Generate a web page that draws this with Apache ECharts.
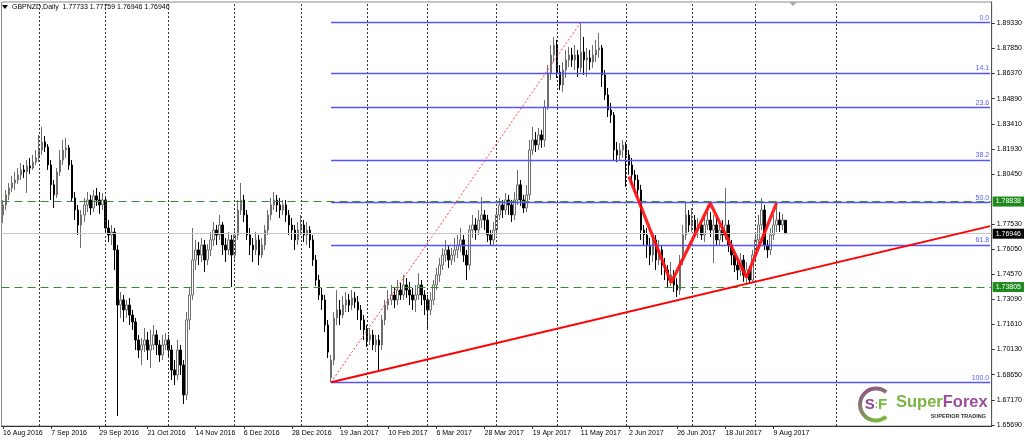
<!DOCTYPE html>
<html>
<head>
<meta charset="utf-8">
<script src="https://cdn.jsdelivr.net/npm/echarts@6/dist/echarts.min.js"></script>
<style>
html,body{margin:0;padding:0;background:#fff;}
#chart{width:1025px;height:443px;}
</style>
</head>
<body>
<div id="chart"></div>
<script>
// ---- DATA ----
const symbolTitle = 'GBPNZD,Daily  1.77733 1.77759 1.76946 1.76946';
const firstBarDate = '2016-08-16';
const futureDays = 68;
// daily candles [open, close, low, high]
const ohlc = [
[1.7805,1.7864,1.7757,1.7893],[1.7864,1.7923,1.7834,1.7952],[1.7923,1.7964,1.7893,1.7993],[1.7964,1.7993,1.7940,1.8035],[1.7993,1.8011,1.7952,1.8058],
[1.8011,1.8041,1.7987,1.8081],[1.8041,1.8070,1.8011,1.8110],[1.8070,1.8058,1.8023,1.8099],[1.8058,1.8093,1.7934,1.8128],[1.8093,1.8081,1.8046,1.8140],
[1.8081,1.8116,1.8070,1.8158],[1.8116,1.8140,1.8099,1.8187],[1.8140,1.8187,1.8116,1.8276],[1.8187,1.8234,1.8158,1.8323],[1.8234,1.8205,1.8175,1.8270],
[1.8205,1.8099,1.8070,1.8222],[1.8099,1.7982,1.7893,1.8128],[1.7982,1.7923,1.7846,1.8011],[1.7923,1.8058,1.7905,1.8081],[1.8058,1.8128,1.8035,1.8187],
[1.8128,1.8187,1.8099,1.8246],[1.8187,1.8199,1.8140,1.8258],[1.8199,1.8099,1.8070,1.8217],[1.8099,1.7905,1.7881,1.8128],[1.7905,1.7834,1.7775,1.7940],
[1.7834,1.7746,1.7687,1.7864],[1.7746,1.7805,1.7611,1.7834],[1.7805,1.7864,1.7763,1.7905],[1.7864,1.7893,1.7822,1.7940],[1.7893,1.7846,1.7805,1.7923],
[1.7846,1.7917,1.7822,1.7952],[1.7917,1.7893,1.7858,1.7964],[1.7893,1.7864,1.7811,1.7940],[1.7864,1.7893,1.7834,1.7934],[1.7893,1.7728,1.7704,1.7905],
[1.7728,1.7687,1.7646,1.7775],[1.7687,1.7704,1.7628,1.7746],[1.7704,1.7599,1.7481,1.7728],[1.7599,1.7275,1.6622,1.7628],[1.7275,1.7305,1.7199,1.7352],
[1.7305,1.7246,1.7175,1.7334],[1.7246,1.7275,1.7199,1.7305],[1.7275,1.7216,1.7157,1.7316],[1.7216,1.7175,1.7128,1.7246],[1.7175,1.7069,1.7010,1.7199],
[1.7069,1.7010,1.6963,1.7098],[1.7010,1.7040,1.6922,1.7081],[1.7040,1.7069,1.6998,1.7140],[1.7069,1.7010,1.6951,1.7116],[1.7010,1.7040,1.6904,1.7128],
[1.7040,1.7099,1.7010,1.7157],[1.7099,1.7040,1.6981,1.7128],[1.7040,1.6981,1.6940,1.7069],[1.6981,1.7040,1.6951,1.7098],[1.7040,1.7069,1.7010,1.7110],
[1.7069,1.7010,1.6963,1.7098],[1.7010,1.6893,1.6834,1.7040],[1.6893,1.6863,1.6804,1.6951],[1.6863,1.7010,1.6834,1.7069],[1.7010,1.6922,1.6863,1.7040],
[1.6922,1.6746,1.6692,1.6951],[1.6746,1.7187,1.6716,1.7234],[1.7187,1.7334,1.7128,1.7375],[1.7334,1.7540,1.7305,1.7728],[1.7540,1.7599,1.7481,1.7658],
[1.7599,1.7569,1.7510,1.7646],[1.7569,1.7628,1.7528,1.7669],[1.7628,1.7540,1.7469,1.7658],[1.7540,1.7599,1.7510,1.7634],[1.7599,1.7658,1.7563,1.7705],
[1.7658,1.7716,1.7622,1.7763],[1.7716,1.7687,1.7628,1.7746],[1.7687,1.7746,1.7658,1.7805],[1.7746,1.7628,1.7569,1.7763],[1.7628,1.7599,1.7528,1.7669],
[1.7599,1.7658,1.7569,1.7705],[1.7658,1.7569,1.7381,1.7687],[1.7569,1.7687,1.7540,1.7716],[1.7687,1.7834,1.7658,1.7893],[1.7834,1.7893,1.7805,1.7993],
[1.7893,1.7805,1.7763,1.7923],[1.7805,1.7687,1.7658,1.7834],[1.7687,1.7628,1.7569,1.7728],[1.7628,1.7599,1.7528,1.7669],[1.7599,1.7658,1.7569,1.7705],
[1.7658,1.7569,1.7510,1.7687],[1.7569,1.7628,1.7552,1.7669],[1.7628,1.7716,1.7599,1.7746],[1.7716,1.7805,1.7687,1.7834],[1.7805,1.7864,1.7775,1.7905],
[1.7864,1.7893,1.7834,1.7940],[1.7893,1.7864,1.7822,1.7923],[1.7864,1.7834,1.7787,1.7905],[1.7834,1.7864,1.7805,1.7893],[1.7864,1.7805,1.7763,1.7893],
[1.7805,1.7746,1.7687,1.7834],[1.7746,1.7716,1.7658,1.7787],[1.7716,1.7658,1.7599,1.7746],[1.7658,1.7716,1.7628,1.7763],[1.7716,1.7746,1.7687,1.7805],
[1.7746,1.7687,1.7646,1.7775],[1.7687,1.7716,1.7628,1.7763],[1.7716,1.7658,1.7611,1.7740],[1.7658,1.7540,1.7505,1.7687],[1.7540,1.7422,1.7387,1.7569],
[1.7422,1.7334,1.7305,1.7452],[1.7334,1.7305,1.7246,1.7375],[1.7305,1.7157,1.7116,1.7334],[1.7157,1.6998,1.6963,1.7187],[1.6846,1.6951,1.6820,1.6981],
[1.6951,1.7199,1.6922,1.7234],[1.7199,1.7246,1.7157,1.7363],[1.7246,1.7216,1.7157,1.7305],[1.7216,1.7275,1.7199,1.7328],[1.7275,1.7305,1.7234,1.7352],
[1.7305,1.7275,1.7234,1.7340],[1.7275,1.7316,1.7246,1.7363],[1.7316,1.7293,1.7257,1.7352],[1.7293,1.7246,1.7187,1.7328],[1.7246,1.7187,1.7128,1.7275],
[1.7187,1.7128,1.7069,1.7216],[1.7128,1.7069,1.7028,1.7157],[1.7069,1.7099,1.7040,1.7140],[1.7099,1.7040,1.7010,1.7128],[1.7040,1.7069,1.6998,1.7099],
[1.7069,1.7040,1.6893,1.7099],[1.7040,1.7187,1.7010,1.7216],[1.7187,1.7275,1.7157,1.7305],[1.7275,1.7305,1.7246,1.7363],[1.7305,1.7334,1.7275,1.7393],
[1.7334,1.7305,1.7257,1.7375],[1.7305,1.7363,1.7275,1.7422],[1.7363,1.7334,1.7305,1.7405],[1.7334,1.7393,1.7305,1.7452],[1.7393,1.7363,1.7316,1.7434],
[1.7363,1.7334,1.7275,1.7411],[1.7334,1.7305,1.7246,1.7375],[1.7305,1.7334,1.7234,1.7393],[1.7334,1.7393,1.7305,1.7463],[1.7393,1.7334,1.7275,1.7422],
[1.7334,1.7305,1.7216,1.7363],[1.7305,1.7246,1.7128,1.7334],[1.7246,1.7305,1.7216,1.7352],[1.7305,1.7393,1.7275,1.7422],[1.7393,1.7452,1.7363,1.7493],
[1.7452,1.7510,1.7411,1.7552],[1.7510,1.7569,1.7481,1.7611],[1.7569,1.7599,1.7528,1.7658],[1.7599,1.7540,1.7493,1.7628],[1.7540,1.7569,1.7510,1.7611],
[1.7569,1.7599,1.7528,1.7669],[1.7599,1.7628,1.7552,1.7687],[1.7628,1.7658,1.7587,1.7728],[1.7658,1.7569,1.7528,1.7687],[1.7569,1.7510,1.7422,1.7599],
[1.7510,1.7716,1.7481,1.7746],[1.7716,1.7746,1.7669,1.7805],[1.7746,1.7716,1.7658,1.7787],[1.7716,1.7775,1.7687,1.7834],[1.7775,1.7805,1.7728,1.7911],
[1.7805,1.7775,1.7716,1.7834],[1.7775,1.7687,1.7646,1.7805],[1.7687,1.7658,1.7628,1.7716],[1.7658,1.7716,1.7628,1.7763],[1.7716,1.7805,1.7687,1.7846],
[1.7805,1.7864,1.7775,1.7905],[1.7864,1.7834,1.7787,1.7893],[1.7834,1.7893,1.7805,1.7934],[1.7893,1.7864,1.7805,1.7923],[1.7864,1.7805,1.7763,1.7893],
[1.7805,1.7893,1.7775,1.7940],[1.7893,1.7982,1.7864,1.8070],[1.7982,1.7893,1.7858,1.8011],[1.7893,1.7846,1.7817,1.7923],[1.7846,1.7923,1.7822,1.7982],
[1.7923,1.8187,1.7893,1.8246],[1.8187,1.8246,1.8158,1.8323],[1.8246,1.8217,1.8175,1.8293],[1.8217,1.8276,1.8187,1.8317],[1.8276,1.8246,1.8199,1.8305],
[1.8246,1.8440,1.8205,1.8482],[1.8440,1.8640,1.8423,1.8687],[1.8640,1.8746,1.8599,1.8805],[1.8746,1.8805,1.8705,1.8852],[1.8805,1.8646,1.8611,1.8835],
[1.8646,1.8570,1.8540,1.8687],[1.8570,1.8658,1.8529,1.8705],[1.8658,1.8717,1.8611,1.8776],[1.8717,1.8746,1.8676,1.8793],[1.8746,1.8717,1.8676,1.8788],
[1.8717,1.8746,1.8658,1.8805],[1.8746,1.8670,1.8617,1.8776],[1.8670,1.8764,1.8646,1.8939],[1.8764,1.8717,1.8629,1.8852],[1.8717,1.8729,1.8617,1.8788],
[1.8729,1.8705,1.8658,1.8776],[1.8705,1.8746,1.8670,1.8805],[1.8746,1.8776,1.8705,1.8835],[1.8776,1.8788,1.8729,1.8876],[1.8788,1.8629,1.8558,1.8805],
[1.8629,1.8511,1.8482,1.8658],[1.8511,1.8423,1.8381,1.8552],[1.8423,1.8393,1.8346,1.8464],[1.8393,1.8187,1.8128,1.8411],[1.8187,1.8158,1.8116,1.8234],
[1.8158,1.8187,1.8128,1.8228],[1.8187,1.8217,1.8140,1.8246],[1.8217,1.8158,1.7970,1.8234],[1.8158,1.8099,1.8041,1.8187],[1.8099,1.8041,1.7982,1.8140],
[1.8041,1.8011,1.7934,1.8070],[1.8011,1.7952,1.7911,1.8041],[1.7952,1.7716,1.7658,1.7982],[1.7716,1.7687,1.7628,1.7746],[1.7687,1.7628,1.7552,1.7728],
[1.7628,1.7569,1.7510,1.7669],[1.7569,1.7658,1.7528,1.7705],[1.7658,1.7540,1.7481,1.7687],[1.7540,1.7599,1.7510,1.7658],[1.7599,1.7510,1.7452,1.7628],
[1.7510,1.7481,1.7422,1.7552],[1.7481,1.7422,1.7375,1.7510],[1.7422,1.7452,1.7387,1.7528],[1.7452,1.7393,1.7352,1.7481],[1.7393,1.7363,1.7322,1.7434],
[1.7363,1.7540,1.7334,1.7569],[1.7540,1.7687,1.7510,1.7746],[1.7687,1.7805,1.7658,1.7875],[1.7805,1.7746,1.7705,1.7834],[1.7746,1.7775,1.7705,1.7846],
[1.7775,1.7716,1.7681,1.7805],[1.7716,1.7746,1.7669,1.7787],[1.7746,1.7687,1.7658,1.7775],[1.7687,1.7746,1.7646,1.7805],[1.7746,1.7775,1.7716,1.7864],
[1.7775,1.7716,1.7675,1.7822],[1.7716,1.7746,1.7522,1.7805],[1.7746,1.7658,1.7628,1.7787],[1.7658,1.7716,1.7622,1.7746],[1.7716,1.7687,1.7646,1.7775],
[1.7687,1.7746,1.7658,1.7964],[1.7746,1.7628,1.7587,1.7775],[1.7628,1.7569,1.7510,1.7658],[1.7569,1.7510,1.7469,1.7599],[1.7510,1.7481,1.7422,1.7552],
[1.7481,1.7540,1.7446,1.7581],[1.7540,1.7452,1.7411,1.7569],[1.7452,1.7481,1.7399,1.7528],[1.7481,1.7422,1.7399,1.7505],[1.7422,1.7569,1.7405,1.7599],
[1.7569,1.7658,1.7540,1.7705],[1.7658,1.7746,1.7628,1.7805],[1.7746,1.7834,1.7716,1.7905],[1.7834,1.7628,1.7599,1.7864],[1.7628,1.7599,1.7552,1.7658],
[1.7599,1.7687,1.7569,1.7728],[1.7687,1.7746,1.7658,1.7805],[1.7746,1.7775,1.7705,1.7881],[1.7775,1.7746,1.7705,1.7822],[1.7746,1.7775,1.7716,1.7811],
[1.77733,1.76946,1.76946,1.77759]
];
// price axis
const priceMin = 1.6563;
const priceMax = 1.9058;
const priceTicks = [1.65690,1.67170,1.68650,1.70130,1.71610,1.73090,1.74570,1.76050,1.77530,1.80450,1.81930,1.83410,1.84890,1.86370,1.87850,1.89330];
// horizontal levels
const resistanceLevel = 1.78838;
const supportLevel = 1.73805;
const lastPrice = 1.76946;
// fibonacci retracement
const fibStartDate = '2017-01-16', fibLow = 1.6820;
const fibEndDate = '2017-05-11', fibHigh = 1.8939;
const fibRatios = [0, 14.1, 23.6, 38.2, 50.0, 61.8, 100.0];
// rising trend line
const trendStart = ['2017-01-16', 1.6820];
const trendEnd = ['2017-10-22', 1.7739];
// double-bottom "W" pattern
const wDates = ['2017-06-02','2017-06-22','2017-07-11','2017-07-27','2017-08-10'];
const wPrices = [1.8030, 1.7406, 1.7874, 1.7438, 1.7874];
// monthly separators
const monthLines = ['2016-09-01','2016-10-03','2016-11-01','2016-12-01','2017-01-02','2017-02-01','2017-03-01','2017-04-03','2017-05-01','2017-06-01','2017-07-03','2017-08-01','2017-09-01'];
const labelEvery = 16;

// ---- categories (trading days, then calendar days into the future) ----
function iso(d){return d.toISOString().slice(0,10);}
const categories = [];
(function(){
  const p = firstBarDate.split('-').map(Number);
  const d = new Date(Date.UTC(p[0], p[1]-1, p[2]));
  while (categories.length < ohlc.length) {
    const wd = d.getUTCDay();
    if (wd !== 0 && wd !== 6) categories.push(iso(d));
    d.setUTCDate(d.getUTCDate()+1);
  }
  for (let k=0;k<futureDays;k++){ categories.push(iso(d)); d.setUTCDate(d.getUTCDate()+1); }
})();
const MONTHS=['Jan','Feb','Mar','Apr','May','Jun','Jul','Aug','Sep','Oct','Nov','Dec'];
function fmtDate(s){const a=s.split('-');return (+a[2])+' '+MONTHS[+a[1]-1]+' '+a[0];}
const lastIdx = ohlc.length - 1;
const showLabel = (i) => i % labelEvery === 0 && i <= lastIdx;
const lastCat = categories[categories.length-1];

const FONT = '"Liberation Sans", Arial, sans-serif';
const fibLines = fibRatios.map(r => {
  const v = fibHigh - r/100*(fibHigh - fibLow);
  return [
    {coord:[fibStartDate, v], lineStyle:{color:'#5454ff', width:1.3, type:'solid'},
     label:{show:true, position:'insideEndTop', formatter: r.toFixed(1), color:'#5a5aff', fontSize:7, fontFamily:FONT, distance:1}},
    {coord:[lastCat, v]}
  ];
});
const boxLabel = (bg, v) => ({show:true, position:'end', distance:1, backgroundColor:bg, color:'#fff', fontSize:7, fontFamily:FONT, padding:[2,3,1,3], formatter: v.toFixed(5)});

const chart = echarts.init(document.getElementById('chart'), null, {renderer:'canvas'});
chart.setOption({
  animation:false,
  backgroundColor:'#ffffff',
  textStyle:{fontFamily:FONT},
  grid:{left:-1.5, right:32, top:2, bottom:17, show:true, borderColor:'#8c8c8c', borderWidth:1, containLabel:false},
  xAxis:{
    type:'category', data:categories, boundaryGap:true,
    axisLine:{show:true, lineStyle:{color:'#333'}},
    axisTick:{show:true, alignWithLabel:true, interval:(i)=>showLabel(i), length:3, lineStyle:{color:'#333'}},
    axisLabel:{interval:(i)=>showLabel(i), formatter:(v)=>fmtDate(v), align:'left', fontSize:7, color:'#000', margin:4, fontFamily:FONT},
    splitLine:{show:false}
  },
  yAxis:{
    type:'value', position:'right', min:priceMin, max:priceMax, scale:true,
    axisLine:{show:true, lineStyle:{color:'#555'}},
    axisTick:{show:true, length:3, customValues:priceTicks, lineStyle:{color:'#333'}},
    axisLabel:{customValues:priceTicks, formatter:(v)=>v.toFixed(5), fontSize:7, color:'#000', margin:5, fontFamily:FONT},
    splitLine:{show:false}
  },
  series:[
    {
      name:'levels', type:'line', data:[], z:1, silent:true,
      markLine:{
        silent:true, symbol:['none','none'], animation:false, precision:6,
        data:[
          ...monthLines.map(d => ({xAxis:d, lineStyle:{color:'#333', type:[2,2], width:1}, label:{show:false}})),
          {yAxis:lastPrice, lineStyle:{color:'#c4c4c4', type:'solid', width:1}, label:boxLabel('#000', lastPrice)},
          ...fibLines,
          {yAxis:resistanceLevel, lineStyle:{color:'#2f8f2f', type:[8,5], width:1}, label:boxLabel('#1e8a1e', resistanceLevel)},
          {yAxis:supportLevel, lineStyle:{color:'#2f8f2f', type:[8,5], width:1}, label:boxLabel('#1e8a1e', supportLevel)}
        ]
      }
    },
    {
      name:'GBPNZD', type:'candlestick', data:ohlc, z:3, barWidth:2,
      itemStyle:{color:'#ffffff', color0:'#000000', borderColor:'#6e6e6e', borderColor0:'#000000', borderWidth:1}
    },
    {
      name:'fibDiag', type:'line', z:4, symbol:'none', silent:true,
      data:[[fibStartDate, fibLow],[fibEndDate, fibHigh]],
      lineStyle:{color:'#ff4040', width:1, type:[2,2]}
    },
    {
      name:'trend', type:'line', z:5, symbol:'none', silent:true,
      data:[trendStart, trendEnd],
      lineStyle:{color:'#ff0000', width:2}
    },
    {
      name:'W', type:'line', z:6, symbol:'none', silent:true,
      data:wDates.map((d,i)=>[d, wPrices[i]]),
      lineStyle:{color:'#ff1010', width:3.2, opacity:0.92}
    }
  ],
  graphic:[
    {type:'polygon', shape:{points:[[2,5],[8,5],[5,9]]}, style:{fill:'#000'}, silent:true},
    {type:'text', style:{x:12, y:7.5, text:symbolTitle, fill:'#000', font:'7px '+FONT, verticalAlign:'middle'}, silent:true},
    {type:'polygon', shape:{points:[[789,2],[797,2],[793,6]]}, style:{fill:'#a8a8a8'}, silent:true},
    {type:'arc', shape:{cx:876, cy:404.5, r:16, startAngle:Math.PI*0.28, endAngle:Math.PI*1.72, clockwise:true},
      style:{fill:null, lineWidth:4, stroke:{type:'linear', x:0, y:0, x2:0.6, y2:1, colorStops:[{offset:0,color:'#93449a'},{offset:1,color:'#78b83c'}]}}, silent:true},
    {type:'text', style:{x:876, y:405, text:'{s|S}{c|:}{f|F}', align:'center', verticalAlign:'middle',
      rich:{s:{fill:'#93449a', font:'bold 15px '+FONT}, c:{fill:'#78b83c', font:'bold 10px '+FONT}, f:{fill:'#78b83c', font:'bold 15px '+FONT}}}, silent:true},
    {type:'text', style:{x:896, y:402, text:'{g|Super}{p|Forex}', verticalAlign:'middle',
      rich:{g:{fill:'#7cb342', font:'bold 16.5px '+FONT}, p:{fill:'#9a4c9e', font:'bold 16.5px '+FONT}}}, silent:true},
    {type:'text', style:{x:986, y:416, text:'SUPERIOR TRADING', align:'right', verticalAlign:'middle', fill:'#333', font:'bold 5.5px '+FONT}, silent:true}
  ]
});
</script>
</body>
</html>
